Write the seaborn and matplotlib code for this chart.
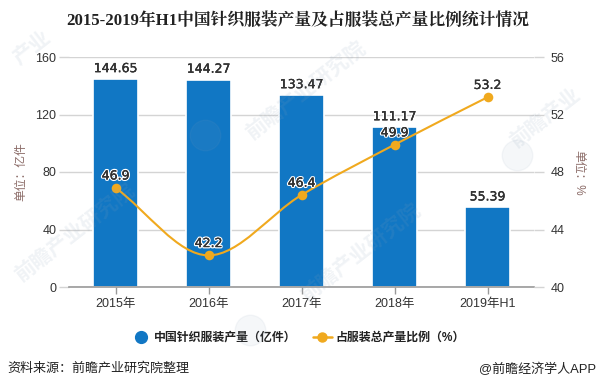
import matplotlib
matplotlib.use('Agg')
import matplotlib.pyplot as plt
import matplotlib.patheffects as pe
from matplotlib.lines import Line2D
from matplotlib.path import Path
from matplotlib.patches import PathPatch
import numpy as np
import pandas as pd
import seaborn as sns

# Data
years = ['2015年', '2016年', '2017年', '2018年', '2019年H1']
output = [144.65, 144.27, 133.47, 111.17, 55.39]
share = [46.9, 42.2, 46.4, 49.9, 53.2]
left_ticks = [0, 40, 80, 120, 160]
right_ticks = [40, 44, 48, 52, 56]

title = '2015-2019年H1中国针织服装产量及占服装总产量比例统计情况'
bar_name = '中国针织服装产量（亿件）'
line_name = '占服装总产量比例（%）'

BLUE = '#1177c4'
ORANGE = '#f0a91e'
GRID = '#d4d4d4'
TEXT = '#333333'
W, H = 597, 390

sns.set_theme(style='white')
plt.rcParams['font.family'] = ['Liberation Sans', 'Noto Sans CJK SC', 'DejaVu Sans']

df = pd.DataFrame({'year': years, 'output': output, 'share': share})

fig = plt.figure(figsize=(W / 100, H / 100), dpi=100)
ax = fig.add_axes([69 / W, 1 - 287 / H, 465 / W, 230 / H])

# Gridlines, ticks stick out past the axes so they read as longer gridlines
ax.set_axisbelow(True)
ax.yaxis.grid(True, color=GRID, lw=1)
sns.barplot(data=df, x='year', y='output', color=BLUE, saturation=1, width=0.475,
            edgecolor='white', linewidth=1.2, ax=ax)
ax.set_xlim(-0.5, 4.5)
ax.set_ylim(0, 160)
ax.set_yticks(left_ticks)
ax.set_xlabel('')
ax.set_ylabel('')
ax.tick_params(axis='y', length=7.2, width=1, color=GRID, labelsize=9, labelcolor=TEXT, pad=2)
ax.tick_params(axis='x', length=4.8, width=1, color='#999999', labelsize=9, labelcolor=TEXT, pad=3, bottom=True)
for s in ['top', 'left', 'right']:
    ax.spines[s].set_visible(False)
ax.spines['bottom'].set_color('#999999')
ax.spines['bottom'].set_linewidth(1.2)

ax2 = ax.twinx()
ax2.set_ylim(40, 56)
ax2.set_yticks(right_ticks)
ax2.set_ylabel('')
ax2.tick_params(axis='y', length=7.2, width=1, color=GRID, labelsize=9, labelcolor=TEXT, pad=5)
for s in ax2.spines.values():
    s.set_visible(False)

# Smooth line: monotone tangents through the values
xs = np.arange(len(share), dtype=float)
ys = np.array(share)
sec = np.diff(ys)
tan = np.zeros(len(ys))
tan[0], tan[-1] = sec[0], sec[-1]
for i in range(1, len(ys) - 1):
    tan[i] = 0 if sec[i - 1] * sec[i] <= 0 else (sec[i - 1] + sec[i]) / 2
verts = [(xs[0], ys[0])]
codes = [Path.MOVETO]
for i in range(len(ys) - 1):
    verts += [(xs[i] + 1 / 3, ys[i] + tan[i] / 3),
              (xs[i + 1] - 1 / 3, ys[i + 1] - tan[i + 1] / 3),
              (xs[i + 1], ys[i + 1])]
    codes += [Path.CURVE4] * 3
ax2.add_patch(PathPatch(Path(verts, codes), fc='none', ec=ORANGE, lw=1.5, zorder=3))
sns.scatterplot(data=df, x='year', y='share', color=ORANGE, s=48, edgecolor=ORANGE,
                linewidth=0, zorder=4, ax=ax2, legend=False)
ax2.set_xlim(-0.5, 4.5)
ax2.set_xlabel('')
ax2.set_ylabel('')

halo = [pe.withStroke(linewidth=2, foreground='white'), pe.Stroke(linewidth=0.15, foreground=TEXT), pe.Normal()]
for i, v in enumerate(output):
    ax.annotate(f'{v:.2f}', (i, v), xytext=(0, 5), textcoords='offset points', ha='center',
                fontsize=9, family='DejaVu Sans', color=TEXT,
                path_effects=halo, zorder=6, annotation_clip=False)
for i, v in enumerate(share):
    ax2.annotate(f'{v}', (i, v), xytext=(0, 6), textcoords='offset points', ha='center',
                 fontsize=9, family='DejaVu Sans', color=TEXT,
                 path_effects=halo, zorder=6)

fig.text(298 / W, 1 - 21 / H, title, ha='center', va='center', fontsize=12.1, fontweight='bold',
         family=['Liberation Serif', 'Noto Serif CJK SC', 'Noto Sans CJK SC'], color='#222222')
fig.text(21 / W, 1 - 172 / H, '单位：亿件', rotation=90, ha='center', va='center', fontsize=8.5, color='#8a6a66')
fig.text(578 / W, 1 - 173 / H, '单位：%', rotation=270, ha='center', va='center', fontsize=8.5, color='#8a6a66')

handles = [Line2D([], [], ls='none', marker='o', ms=8.5, color=BLUE),
           Line2D([], [], ls='-', lw=1.8, marker='o', ms=6.5, color=ORANGE)]
fig.legend(handles, [bar_name, line_name], loc='center', bbox_to_anchor=(298 / W, 1 - 338 / H), ncol=2,
           frameon=False, prop={'size': 8.6, 'weight': 'bold'}, labelcolor='#222222', columnspacing=1.4,
           handletextpad=0.3, handlelength=1.6)
fig.text(7 / W, 1 - 369 / H, '资料来源：前瞻产业研究院整理', ha='left', va='center', fontsize=9.4, color='#222222')
fig.text(596 / W, 1 - 369 / H, '@前瞻经济学人APP', ha='right', va='center', fontsize=9.4, color='#222222')

# Watermarks
marks = [(74, 232, '前瞻产业研究院'), (305, 90, '前瞻产业研究院'), (360, 252, '前瞻产业研究院'),
         (545, 118, '前瞻产业'), (32, 48, '产业')]
for mx, my, label in marks:
    fig.text(mx / W, 1 - my / H, label, rotation=38, ha='center', va='center', fontsize=15,
             color='#8aa0b8', alpha=0.13, fontweight='bold', zorder=10)
for cx, cy in [(205, 135), (517, 155), (250, 330)]:
    fig.add_artist(Line2D([cx / W], [1 - cy / H], marker='o', ms=22, color='#8aa0b8', alpha=0.08,
                          ls='none', transform=fig.transFigure, zorder=10))

fig.savefig('out.png', dpi=100)
